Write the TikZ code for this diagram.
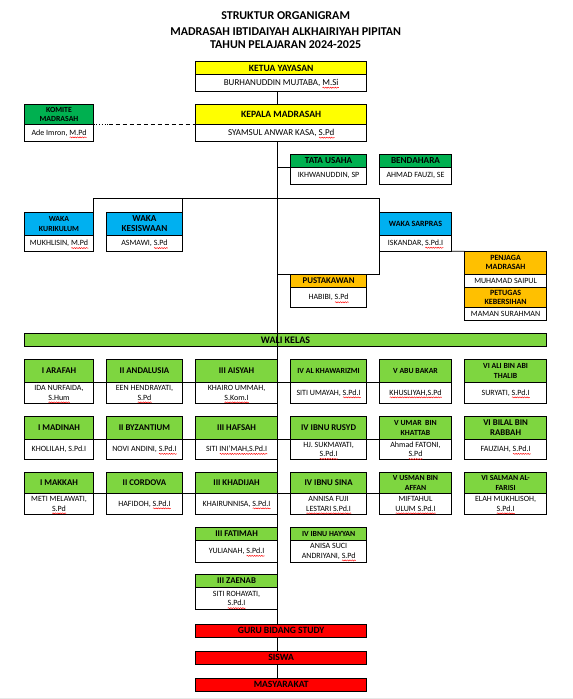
\documentclass[tikz,border=0pt]{standalone}
\usepackage{fontspec}
\setmainfont{Carlito}
\usetikzlibrary{calc,decorations.pathmorphing}
\definecolor{cyel}{HTML}{FFFF00}
\definecolor{cdg}{HTML}{00B050}
\definecolor{cbl}{HTML}{00B0F0}
\definecolor{cgo}{HTML}{FFC000}
\definecolor{clg}{HTML}{7ED640}
\definecolor{cred}{HTML}{FF0000}
\definecolor{cedge}{HTML}{E8E8E8}
\newsavebox\sqbox
\newlength\sqlen
\newcommand\sq[1]{\sbox\sqbox{#1}\setlength\sqlen{\wd\sqbox}\leavevmode\rlap{\raisebox{0pt}[0pt][0pt]{\tikz[baseline=0pt]\draw[red,line width=0.45pt,decorate,decoration={snake,amplitude=0.55pt,segment length=2.4pt}] (0pt,-2.3pt) -- (\sqlen,-2.3pt);}}\usebox\sqbox}
\tikzset{
 cell/.style={draw=black,line width=0.8pt,inner sep=0pt,outer sep=0pt,align=center},
 hdr/.style={cell,font=\bfseries\fontsize{8.8}{10}\selectfont},
 nm/.style={cell,fill=white,font=\fontsize{8}{9.5}\selectfont},
 hsm/.style={font=\bfseries\fontsize{7.8}{9.8}\selectfont},
 big/.style={font=\bfseries\fontsize{9.6}{11}\selectfont},
 bignm/.style={font=\fontsize{9}{10}\selectfont},
 ln/.style={line width=0.8pt,black},
 ttl/.style={font=\bfseries\fontsize{12}{13}\selectfont,anchor=base,inner sep=0pt},
}
\newcommand\hcell[8][]{\node[hdr,fill=#7,minimum width={#4pt-#3pt},minimum height={#6pt-#5pt},#1] (#2) at ({(#3+#4)/2},{(#5+#6)/2}) {#8};}
\newcommand\bcell[7][]{\node[nm,minimum width={#4pt-#3pt},minimum height={#6pt-#5pt},#1] (#2) at ({(#3+#4)/2},{(#5+#6)/2}) {#7};}
\begin{document}
\begin{tikzpicture}[x=1pt,y=-1pt]
\useasboundingbox (0,0) rectangle (573,699);
\fill[white] (0,0) rectangle (573,699);
\fill[cedge] (0,697.5) rectangle (573,699);
\coordinate (spine) at (277.5,0);
% title
\node[ttl] (t1) at (285.7,19.8) {STRUKTUR ORGANIGRAM};
\node[ttl] (t2) at (285.7,35.4) {MADRASAH IBTIDAIYAH ALKHAIRIYAH PIPITAN};
\node[ttl] (t3) at (285.7,48.0) {TAHUN PELAJARAN 2024-2025};
% top
\hcell[big]{ketua-h}{195.7}{366.7}{61.7}{74.7}{cyel}{KETUA YAYASAN}
\bcell[bignm]{ketua-b}{195.7}{366.7}{74.7}{91}{BURHANUDDIN MUJTABA, \sq{M.Si}}
\hcell[big]{kepala-h}{195.7}{366.7}{104.3}{124.3}{cyel}{KEPALA MADRASAH}
\bcell[bignm]{kepala-b}{195.7}{366.7}{124.3}{141.3}{SYAMSUL ANWAR KASA, \sq{S.Pd}}
\hcell[font=\bfseries\fontsize{7.8}{8.8}\selectfont]{komite-h}{24.3}{93.7}{104.3}{124.3}{cdg}{KOMITE\\MADRASAH}
\bcell{komite-b}{24.3}{93.7}{124.3}{141.3}{Ade Imron, \sq{M.Pd}}
\hcell[font=\bfseries\fontsize{9.2}{10}\selectfont]{tu-h}{290.5}{366.7}{154.3}{167.3}{cdg}{TATA USAHA}
\bcell{tu-b}{290.5}{366.7}{167.3}{184.3}{IKHWANUDDIN, SP}
\hcell[font=\bfseries\fontsize{9.2}{10}\selectfont]{bd-h}{379.3}{451.7}{154.3}{167.3}{cdg}{BENDAHARA}
\bcell{bd-b}{379.3}{451.7}{167.3}{184.3}{AHMAD FAUZI, SE}
% waka
\hcell[font=\bfseries\fontsize{7.8}{10}\selectfont]{wk-h}{24.3}{93.7}{212.3}{235.3}{cbl}{WAKA\\KURIKULUM}
\bcell{wk-b}{24.3}{93.7}{235.3}{251.7}{MUKHLISIN, \sq{M.Pd}}
\hcell[font=\bfseries\fontsize{9.2}{10.3}\selectfont]{wks-h}{106.3}{182.7}{212.3}{235.3}{cbl}{WAKA\\KESISWAAN}
\bcell{wks-b}{106.3}{182.7}{235.3}{251.7}{ASMAWI, \sq{S.Pd}}
\hcell[font=\bfseries\fontsize{8}{9}\selectfont]{wsp-h}{379.3}{451.7}{212.3}{235}{cbl}{WAKA SARPRAS}
\bcell{wsp-b}{379.3}{451.7}{235}{251.3}{ISKANDAR, \sq{S.Pd.I}}
\hcell[font=\bfseries\fontsize{8}{9}\selectfont]{pj-h}{464.5}{546.7}{251.3}{274.3}{cgo}{PENJAGA\\MADRASAH}
\bcell{pj-b}{464.5}{546.7}{274.3}{287.3}{MUHAMAD SAIPUL}
\hcell[font=\bfseries\fontsize{8}{9}\selectfont]{pt-h}{464.5}{546.7}{287.3}{307.7}{cgo}{PETUGAS\\KEBERSIHAN}
\bcell{pt-b}{464.5}{546.7}{307.7}{320.3}{MAMAN SURAHMAN}
\hcell[font=\bfseries\fontsize{8.8}{9}\selectfont]{pust-h}{290.5}{366.7}{274.3}{287.7}{cgo}{PUSTAKAWAN}
\bcell{pust-b}{290.5}{366.7}{287.7}{307.7}{HABIBI, \sq{S.Pd}}
% wali kelas
\hcell[font=\bfseries\fontsize{10}{11}\selectfont]{wali}{24.3}{546.7}{333.3}{346.3}{clg}{WALI KELAS}
% row 1
\hcell{a1}{24.3}{93.7}{359.3}{382.3}{clg}{I ARAFAH}
\bcell{a1n}{24.3}{93.7}{382.3}{403.3}{IDA NURFAIDA,\\\sq{S.Hum}}
\hcell{b1}{106.3}{182.7}{359.3}{382.3}{clg}{II ANDALUSIA}
\bcell{b1n}{106.3}{182.7}{382.3}{403.3}{EEN HENDRAYATI,\\\sq{S.Pd}}
\hcell{c1}{195.6}{277.5}{359.3}{382.3}{clg}{III AISYAH}
\bcell{c1n}{195.6}{277.5}{382.3}{403.3}{KHAIRO UMMAH,\\\sq{S.Kom.I}}
\hcell[hsm]{d1}{290.5}{366.7}{359.3}{382.3}{clg}{IV AL KHAWARIZMI}
\bcell{d1n}{290.5}{366.7}{382.3}{403.3}{SITI UMAYAH, \sq{S.Pd.I}}
\hcell[hsm]{e1}{379.3}{451.7}{359.3}{382.3}{clg}{V ABU BAKAR}
\bcell{e1n}{379.3}{451.7}{382.3}{403.3}{\sq{KHUSLIYAH,S.Pd}}
\hcell[hsm]{f1}{464.5}{546.7}{359.3}{382.3}{clg}{VI ALI BIN ABI\\THALIB}
\bcell{f1n}{464.5}{546.7}{382.3}{403.3}{SURYATI, \sq{S.Pd.I}}
% row 2
\hcell{a2}{24.3}{93.7}{416.3}{439.3}{clg}{I MADINAH}
\bcell{a2n}{24.3}{93.7}{439.3}{459.3}{KHOLILAH, S.Pd.I}
\hcell{b2}{106.3}{182.7}{416.3}{439.3}{clg}{II BYZANTIUM}
\bcell{b2n}{106.3}{182.7}{439.3}{459.3}{NOVI ANDINI, \sq{S.Pd.I}}
\hcell{c2}{195.6}{277.5}{416.3}{439.3}{clg}{III HAFSAH}
\bcell{c2n}{195.6}{277.5}{439.3}{459.3}{SITI \sq{INI'MAH,S.Pd.I}}
\hcell{d2}{290.5}{366.7}{416.3}{439.3}{clg}{IV IBNU RUSYD}
\bcell{d2n}{290.5}{366.7}{439.3}{459.3}{HJ. SUKMAYATI,\\\sq{S.Pd.I}}
\hcell[hsm]{e2}{379.3}{451.7}{416.3}{439.3}{clg}{V UMAR\ \ BIN\\KHATTAB}
\bcell{e2n}{379.3}{451.7}{439.3}{459.3}{Ahmad FATONI,\\\sq{S.Pd}}
\hcell{f2}{464.5}{546.7}{416.3}{439.3}{clg}{VI BILAL BIN\\RABBAH}
\bcell{f2n}{464.5}{546.7}{439.3}{459.3}{FAUZIAH, \sq{S.Pd.I}}
% row 3
\hcell{a3}{24.3}{93.7}{472.3}{493.3}{clg}{I MAKKAH}
\bcell{a3n}{24.3}{93.7}{493.3}{514.3}{METI MELAWATI,\\\sq{S.Pd}}
\hcell{b3}{106.3}{182.7}{472.3}{493.3}{clg}{II CORDOVA}
\bcell{b3n}{106.3}{182.7}{493.3}{514.3}{HAFIDOH, \sq{S.Pd.I}}
\hcell{c3}{195.6}{277.5}{472.3}{493.3}{clg}{III KHADIJAH}
\bcell{c3n}{195.6}{277.5}{493.3}{514.3}{KHAIRUNNISA, \sq{S.Pd.I}}
\hcell{d3}{290.5}{366.7}{472.3}{493.3}{clg}{IV IBNU SINA}
\bcell{d3n}{290.5}{366.7}{493.3}{514.3}{ANNISA FUJI\\\sq{LESTARI S.Pd.I}}
\hcell[hsm]{e3}{379.3}{451.7}{472.3}{493.3}{clg}{V USMAN BIN\\AFFAN}
\bcell{e3n}{379.3}{451.7}{493.3}{514.3}{MIFTAHUL\\\sq{ULUM S.Pd.I}}
\hcell[hsm]{f3}{464.5}{546.7}{472.3}{493.3}{clg}{VI SALMAN AL-\\FARISI}
\bcell{f3n}{464.5}{546.7}{493.3}{514.3}{ELAH MUKHLISOH,\\\sq{S.Pd.I}}
% extra classes
\hcell{fat-h}{195.6}{277.5}{527.3}{540.3}{clg}{III FATIMAH}
\bcell{fat-b}{195.6}{277.5}{540.3}{562.3}{YULIANAH, \sq{S.Pd.I}}
\hcell[hsm]{hay-h}{290.7}{366.7}{527.3}{540.3}{clg}{IV IBNU HAYYAN}
\bcell{hay-b}{290.7}{366.7}{540.3}{562.3}{ANISA SUCI\\ANDRIYANI, \sq{S.Pd}}
\hcell{zae-h}{195.6}{277.5}{574.3}{587.7}{clg}{III ZAENAB}
\bcell{zae-b}{195.6}{277.5}{587.7}{609.3}{SITI ROHAYATI,\\\sq{S.Pd.I}}
% bottom
\hcell[big]{guru}{195.7}{366.7}{624.3}{637.3}{cred}{GURU BIDANG STUDY}
\hcell[big]{siswa}{195.7}{366.7}{651.3}{664.3}{cred}{SISWA}
\hcell[big]{masy}{195.7}{366.7}{678.3}{691.3}{cred}{MASYARAKAT}
% connectors
\draw[ln] (ketua-b.south -| spine) -- (kepala-h.north -| spine);
\draw[ln] (kepala-b.south -| spine) -- (guru.north -| spine);
\draw[ln] (guru.south -| spine) -- (siswa.north -| spine);
\draw[ln] (siswa.south -| spine) -- (masy.north -| spine);
\draw[ln] (tu-h.south west -| spine) -- (tu-h.south west);
\coordinate (kd) at ($(komite-h.south east)+(15,0)$);
\draw[ln,line width=0.7pt,dotted] (komite-h.south east) -- (kd);
\draw[ln,dash pattern=on 4pt off 3pt] (kd) -- (kepala-h.south west);
\coordinate (wbar) at (0,198.7);
\draw[ln] (wk-h.north east) -- (wk-h.north east |- wbar) -- (wsp-h.north west |- wbar) -- (wsp-h.north west) -- (wsp-h.west |- pust-h.north) -- (pust-h.north -| spine);
\draw[ln] (wks-h.north east) -- (wks-h.north east |- wbar);
\draw[ln] (wsp-b.south east) -- (pj-h.north west);
\draw[ln] (a1.south east) -- (e1.south west);
\draw[ln] (a2.south east) -- (e2.south west);
\draw[ln] (a3.south east) -- (e3.south west);
\end{tikzpicture}
\end{document}
